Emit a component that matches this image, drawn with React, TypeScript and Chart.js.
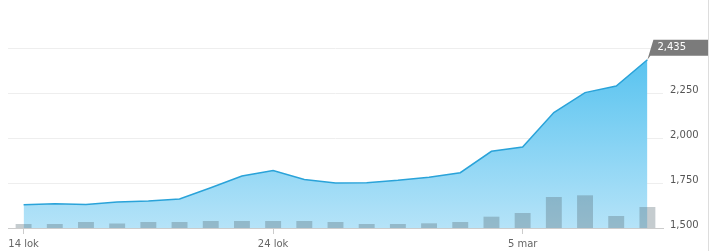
import React, { useEffect, useRef } from "react";
import { Chart, registerables } from "chart.js";

Chart.register(...registerables);

const xLabels = ["14 lok", "", "", "", "", "", "", "", "24 lok", "", "", "", "", "", "", "", "5 mar", "", "", "", ""];
const prices = [1629, 1635, 1631, 1644, 1650, 1661, 1724, 1789, 1819, 1770, 1750, 1752, 1765, 1782, 1807, 1926, 1950, 2141, 2252, 2289, 2435];
const volumes = [40, 40, 60, 45, 60, 60, 70, 70, 70, 70, 60, 40, 40, 47, 60, 113, 150, 310, 327, 120, 210];
const yTicks = [1500, 1750, 2000, 2250, 2500];

const FONT = "'DejaVu Sans', Verdana, sans-serif";

const fmt = (v: number) => v.toLocaleString("en-US");

const tagPlugin = {
  id: "lastValueTag",
  afterDraw(chart: any) {
    const meta = chart.getDatasetMeta(1);
    const pts = meta.data;
    if (!pts || !pts.length) return;
    const last = pts[pts.length - 1];
    const px = last.x;
    const py = last.y;
    const ctx = chart.ctx;
    ctx.save();
    ctx.fillStyle = "#7b7b7b";
    ctx.beginPath();
    ctx.moveTo(px, py);
    ctx.lineTo(px + 6, py - 20);
    ctx.lineTo(px + 61, py - 20);
    ctx.lineTo(px + 61, py - 4);
    ctx.lineTo(px + 3, py - 4);
    ctx.closePath();
    ctx.fill();
    ctx.fillStyle = "#ffffff";
    ctx.font = "10px " + FONT;
    ctx.textBaseline = "middle";
    ctx.textAlign = "left";
    const ds = chart.data.datasets[1].data;
    ctx.fillText(fmt(ds[ds.length - 1]), px + 10, py - 12);
    ctx.restore();
  },
};

export default function App() {
  const ref = useRef<HTMLCanvasElement | null>(null);

  useEffect(() => {
    if (!ref.current) return;
    const chart = new Chart(ref.current, {
      type: "bar",
      data: {
        labels: xLabels,
        datasets: [
          {
            type: "bar",
            data: volumes,
            yAxisID: "yv",
            backgroundColor: "rgba(85,105,115,0.34)",
            borderWidth: 0,
            categoryPercentage: 1,
            barPercentage: 0.51,
            order: 0,
          } as any,
          {
            type: "line",
            data: prices,
            yAxisID: "y",
            borderColor: "#2aa3d9",
            borderWidth: 1.5,
            pointRadius: 0,
            tension: 0,
            fill: "start",
            backgroundColor: (c: any) => {
              const area = c.chart.chartArea;
              if (!area) return "rgba(94,198,240,0.8)";
              const g = c.chart.ctx.createLinearGradient(0, area.top, 0, area.bottom);
              g.addColorStop(0, "#52c1ef");
              g.addColorStop(1, "#b5e3f8");
              return g;
            },
            order: 1,
          } as any,
        ],
      },
      options: {
        animation: false,
        responsive: true,
        maintainAspectRatio: false,
        layout: { padding: { left: 8, top: 48, right: 0, bottom: 0 } },
        plugins: { legend: { display: false }, tooltip: { enabled: false } },
        scales: {
          x: {
            offset: true,
            grid: {
              drawOnChartArea: false,
              drawTicks: true,
              tickLength: 6,
              color: (c: any) => (c.tick && xLabels[c.index] ? "#cccccc" : "rgba(0,0,0,0)"),
              offset: false,
            },
            border: { display: true, color: "#cccccc" },
            ticks: {
              autoSkip: false,
              maxRotation: 0,
              padding: 4,
              color: "#666666",
              font: { family: FONT, size: 10 },
            },
            afterFit: (s: any) => {
              s.height = 23;
            },
          },
          y: {
            position: "right",
            min: 1500,
            max: 2500,
            afterBuildTicks: (s: any) => {
              s.ticks = yTicks.map((v) => ({ value: v }));
            },
            grid: { color: "#eeeeee", drawTicks: false },
            border: { display: false },
            ticks: {
              padding: 7,
              labelOffset: -3,
              color: "#555555",
              font: { family: FONT, size: 10 },
              callback: (v: any) => fmt(Number(v)),
            },
            afterFit: (s: any) => {
              s.width = 45;
            },
          },
          yv: {
            display: false,
            min: 0,
            max: 1800,
          },
        },
      },
      plugins: [tagPlugin],
    });
    return () => chart.destroy();
  }, []);

  return (
    <div
      style={{
        position: "fixed",
        left: 0,
        top: 0,
        width: 708,
        height: 251,
        borderRight: "1px solid #dddddd",
        background: "#ffffff",
      }}
    >
      <canvas ref={ref} />
    </div>
  );
}
